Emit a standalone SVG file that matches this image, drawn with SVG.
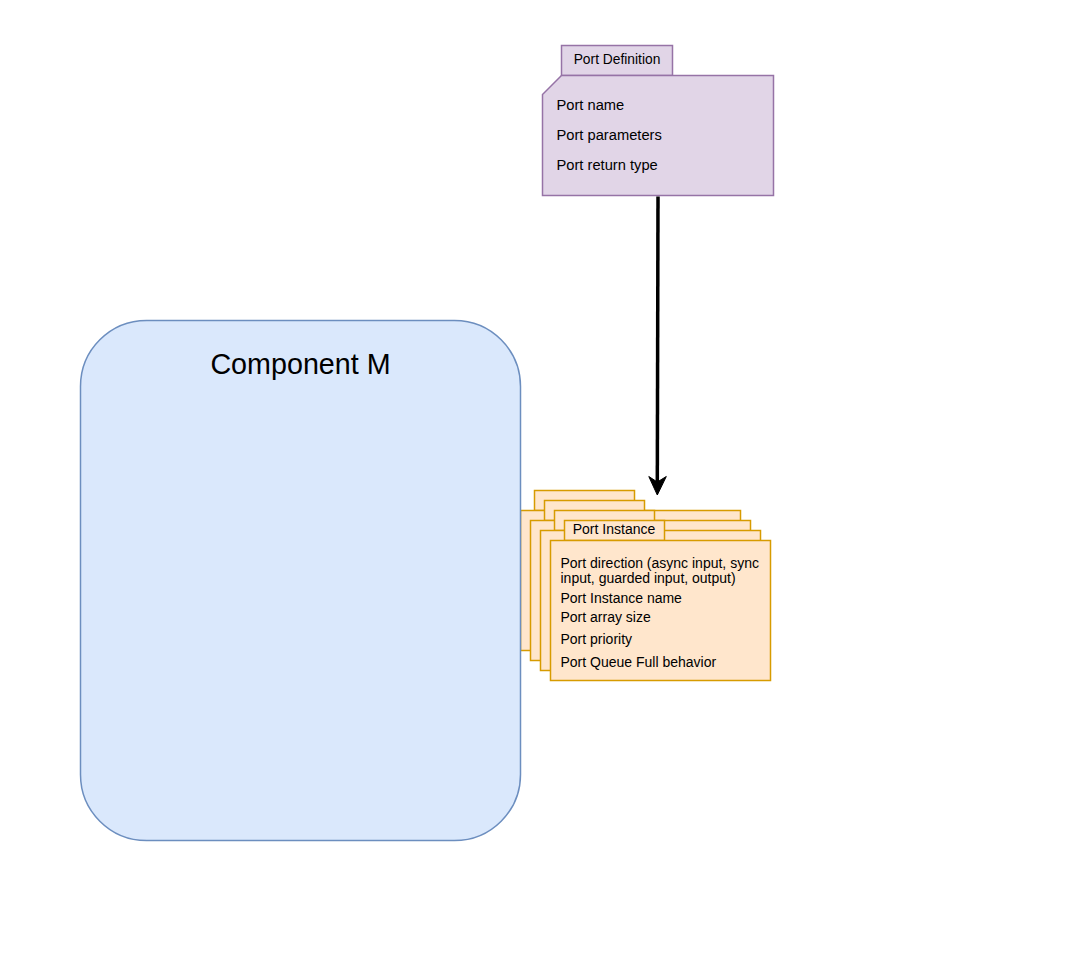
<svg xmlns="http://www.w3.org/2000/svg" width="1081" height="961" viewBox="0 0 1081 961">
  <style>
    text { font-family: "Liberation Sans", Arial, Helvetica, sans-serif; fill: #000000; }
    .def { fill: #e1d5e7; stroke: #9673a6; stroke-width: 1.5; }
    .inst { fill: #ffe6cc; stroke: #d79b00; stroke-width: 1.5; }
    .comp { fill: #dae8fc; stroke: #6c8ebf; stroke-width: 1.5; }
    .t14 { font-size: 14px; }
    .tdef { font-size: 14.7px; }
    .ttab { font-size: 13.8px; }
  </style>
  <defs>
    <g id="folder">
      <rect x="14" y="0" width="100" height="20" class="inst"/>
      <rect x="0" y="20" width="220" height="140" class="inst"/>
    </g>
  </defs>
  <rect x="0" y="0" width="1081" height="961" fill="#ffffff"/>

  <g id="port-instance-stack">
    <use href="#folder" x="520.5" y="490.5"/>
    <use href="#folder" x="530.5" y="500.5"/>
    <use href="#folder" x="540.5" y="510.5"/>
    <g id="port-instance">
      <use href="#folder" x="550.5" y="520.5"/>
      <text x="614" y="534" class="t14" text-anchor="middle">Port Instance</text>
      <text x="560.5" y="568" class="t14">Port direction (async input, sync</text>
      <text x="560.5" y="583" class="t14">input, guarded input, output)</text>
      <text x="560.5" y="603" class="t14">Port Instance name</text>
      <text x="560.5" y="622" class="t14">Port array size</text>
      <text x="560.5" y="644" class="t14">Port priority</text>
      <text x="560.5" y="667" class="t14">Port Queue Full behavior</text>
    </g>
  </g>

  <g id="component-m">
    <rect x="80.5" y="320.5" width="440" height="520" rx="66" ry="66" class="comp"/>
    <text x="300.5" y="373.5" font-size="28.7" text-anchor="middle">Component M</text>
  </g>

  <g id="port-definition">
    <rect x="561.5" y="45.5" width="111" height="30" class="def"/>
    <path d="M561.5 75.5 L773.5 75.5 L773.5 195.5 L542.5 195.5 L542.5 94.5 Z" class="def"/>
    <text x="617" y="63.5" class="ttab" text-anchor="middle">Port Definition</text>
    <text x="556.5" y="110" class="tdef">Port name</text>
    <text x="556.5" y="140" class="tdef">Port parameters</text>
    <text x="556.5" y="170" class="tdef">Port return type</text>
  </g>

  <g id="connectors">
    <path d="M658 196.5 L657.3 484" fill="none" stroke="#000000" stroke-width="3.5"/>
    <path d="M657.3 495 L648.8 476.5 L657.3 482 L666.3 476.5 Z" fill="#000000" stroke="#000000" stroke-width="1"/>
  </g>
</svg>
